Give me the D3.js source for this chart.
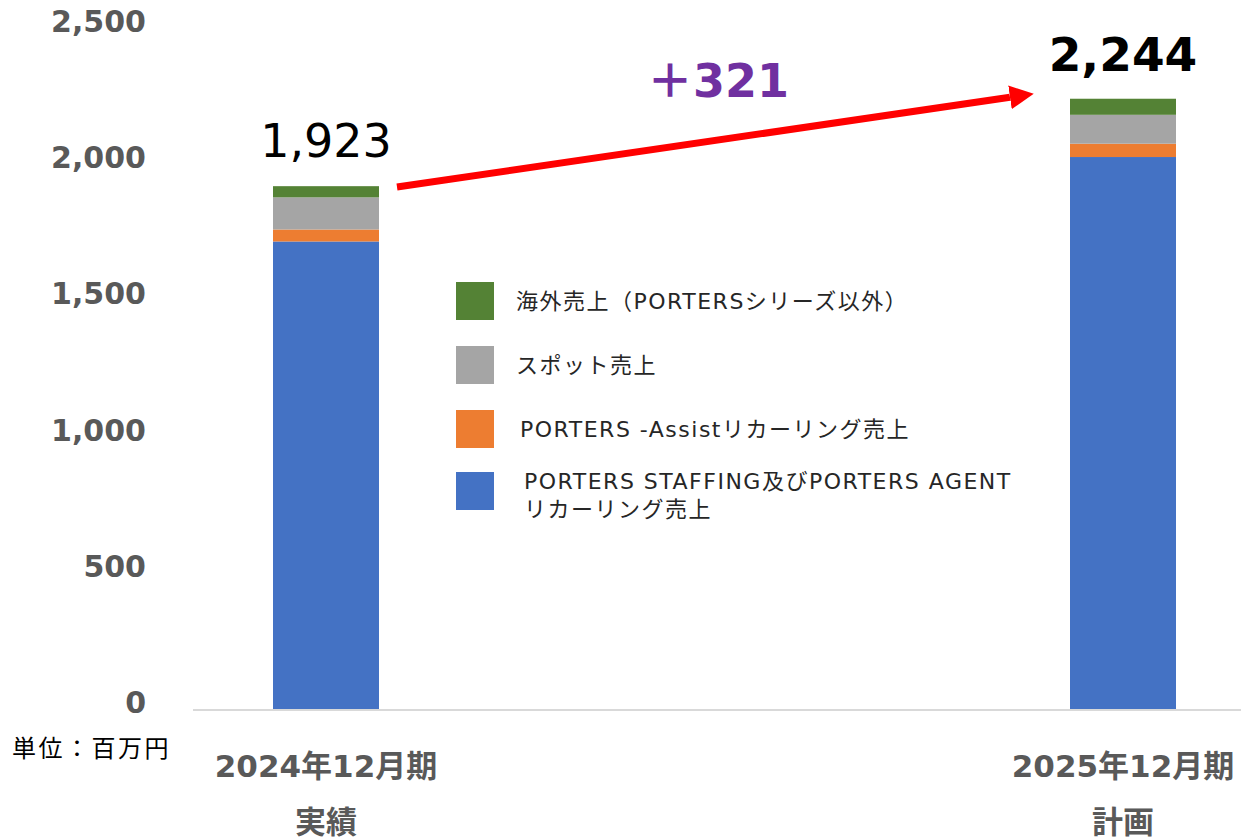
<!DOCTYPE html>
<html>
<head>
<meta charset="utf-8">
<script src="https://cdn.jsdelivr.net/npm/d3@7"></script>
<style>
  body { margin: 0; background: #fff; }
  text { font-family: "DejaVu Sans", "Noto Sans CJK JP", sans-serif; }
</style>
</head>
<body>
<svg id="chart" width="1241" height="839"></svg>
<script>
const periods = ["2024年12月期", "2025年12月期"];
const periodSub = ["実績", "計画"];
const seriesKeys = ["agent", "assist", "spot", "overseas"];
const seriesNames = [
  ["PORTERS STAFFING及びPORTERS AGENT", "リカーリング売上"],
  ["PORTERS -Assistリカーリング売上"],
  ["スポット売上"],
  ["海外売上（PORTERSシリーズ以外）"]
];
const seriesColors = ["#4472C4", "#ED7D31", "#A5A5A5", "#548235"];
const agentValues = [1720, 2030];
const assistValues = [44, 49];
const spotValues = [118, 106];
const overseasValues = [41, 59];
const totals = [1923, 2244];
const yTicks = [0, 500, 1000, 1500, 2000, 2500];
const diffLabel = "＋321";

const svg = d3.select("#chart");

const rows = periods.map((p, i) => ({
  period: p,
  agent: agentValues[i],
  assist: assistValues[i],
  spot: spotValues[i],
  overseas: overseasValues[i]
}));

const barW = 106;
const x = d3.scalePoint().domain(periods).range([326, 1123]);
const y = d3.scaleLinear().domain([0, 2500]).range([710, 29]);

const stack = d3.stack().keys(seriesKeys)(rows);

svg.append("g")
  .selectAll("g")
  .data(stack)
  .join("g")
  .attr("fill", (d, i) => seriesColors[i])
  .selectAll("rect")
  .data(d => d)
  .join("rect")
  .attr("x", d => x(d.data.period) - barW / 2)
  .attr("y", d => y(d[1]))
  .attr("width", barW)
  .attr("height", d => y(d[0]) - y(d[1]));

// baseline
svg.append("line")
  .attr("x1", 193).attr("x2", 1241)
  .attr("y1", y(0)).attr("y2", y(0))
  .attr("stroke", "#d9d9d9").attr("stroke-width", 2);

// y axis labels
const yAxis = svg.append("g")
  .attr("transform", "translate(146,0)")
  .call(d3.axisLeft(y).tickValues(yTicks).tickFormat(d3.format(",")).tickSize(0).tickPadding(0));
yAxis.select(".domain").remove();
yAxis.selectAll("text")
  .attr("font-size", 30).attr("font-weight", "bold").attr("fill", "#595959")
  .attr("font-family", "'DejaVu Sans', 'Noto Sans CJK JP', sans-serif")
  .attr("dy", "0.08em");

// category labels
const cat = svg.append("g");
periods.forEach((p, i) => {
  const cx = x(p);
  cat.append("text").attr("x", cx).attr("y", 777).attr("text-anchor", "middle")
    .attr("font-size", 31).attr("font-weight", "bold").attr("fill", "#595959").text(p);
  cat.append("text").attr("x", cx).attr("y", 833).attr("text-anchor", "middle")
    .attr("font-size", 31).attr("font-weight", "bold").attr("fill", "#595959").text(periodSub[i]);
});

svg.append("text").attr("x", 12).attr("y", 757)
  .attr("font-size", 24).attr("letter-spacing", 2.5).attr("fill", "#000")
  .attr("font-family", "'Noto Sans CJK JP', sans-serif").text("単位：百万円");

// totals
svg.append("text")
  .attr("x", x(periods[0])).attr("y", y(totals[0]) - 29)
  .attr("text-anchor", "middle").attr("font-size", 46).attr("fill", "#000")
  .text(d3.format(",")(totals[0]));
svg.append("text")
  .attr("x", x(periods[1])).attr("y", y(totals[1]) - 28)
  .attr("text-anchor", "middle").attr("font-size", 47).attr("font-weight", "bold").attr("fill", "#000")
  .text(d3.format(",")(totals[1]));

// arrow
svg.append("defs").append("marker")
  .attr("id", "head").attr("viewBox", "0 0 10 10").attr("refX", 0).attr("refY", 5)
  .attr("markerUnits", "userSpaceOnUse")
  .attr("markerWidth", 24).attr("markerHeight", 24).attr("orient", "auto")
  .append("path").attr("d", "M0,0 L10,5 L0,10 Z").attr("fill", "#FF0000");
svg.append("line")
  .attr("x1", 397).attr("y1", 187).attr("x2", 1010).attr("y2", 97.3)
  .attr("stroke", "#FF0000").attr("stroke-width", 7).attr("marker-end", "url(#head)");

svg.append("text").attr("x", 718).attr("y", 97).attr("text-anchor", "middle")
  .attr("font-size", 46).attr("font-weight", "bold").attr("fill", "#7030A0")
  .text(diffLabel);

// legend (top to bottom: overseas, spot, assist, agent)
const legendOrder = [3, 2, 1, 0];
const legendY = [282, 346, 410, 472];
const legend = svg.append("g");
legendOrder.forEach((si, k) => {
  legend.append("rect").attr("x", 456).attr("y", legendY[k]).attr("width", 38).attr("height", 38)
    .attr("fill", seriesColors[si]);
  const lines = seriesNames[si];
  const t = legend.append("text").attr("font-size", 22).attr("letter-spacing", 1.5).attr("fill", "#262626")
    .attr("font-family", "'Noto Sans CJK JP', sans-serif");
  if (lines.length === 1) {
    t.append("tspan").attr("x", si === 1 ? 520 : 516).attr("y", legendY[k] + 27).text(lines[0]);
  } else {
    t.append("tspan").attr("x", 524).attr("y", legendY[k] + 17).text(lines[0]);
    t.append("tspan").attr("x", 524).attr("y", legendY[k] + 45).text(lines[1]);
  }
});
</script>
</body>
</html>
